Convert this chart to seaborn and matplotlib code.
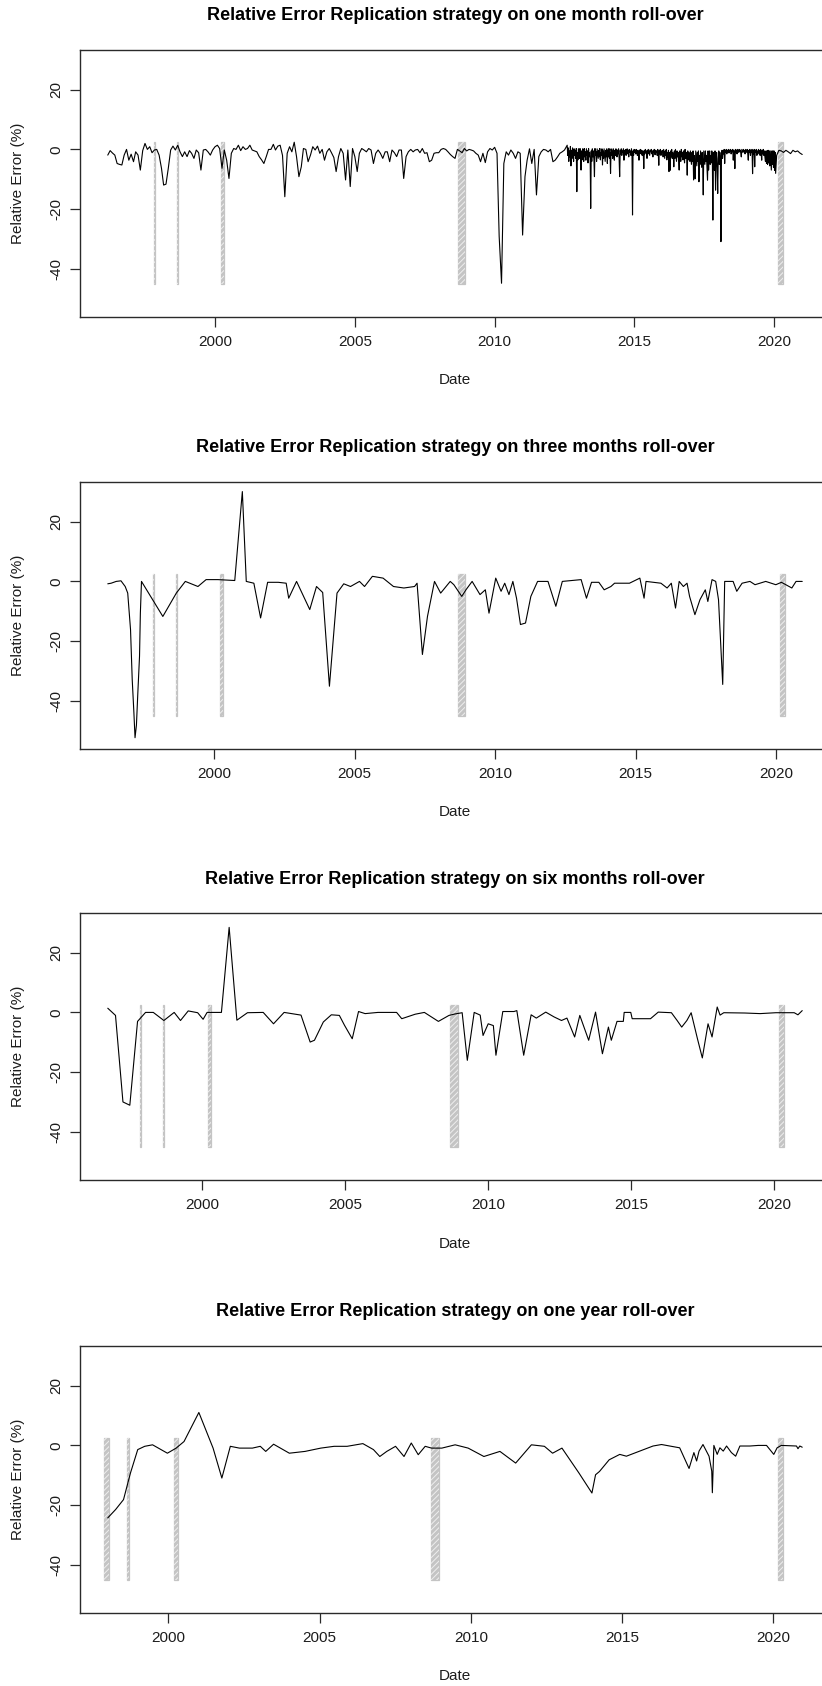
import matplotlib
matplotlib.use("Agg")
import matplotlib.pyplot as plt
from matplotlib.patches import Rectangle
import numpy as np
import pandas as pd
import seaborn as sns

# ---------------------------------------------------------------- data
TITLES = [
    "Relative Error Replication strategy on one month roll-over",
    "Relative Error Replication strategy on three months roll-over",
    "Relative Error Replication strategy on six months roll-over",
    "Relative Error Replication strategy on one year roll-over",
]
X_TICKS = [2000, 2005, 2010, 2015, 2020]
Y_TICKS = [-40, -20, 0, 20]
Y_LIMITS = (-55.8, 33.2)

# crisis periods (decimal years), shaded on every panel
BAND_START = [1997.83, 1998.63, 2000.20, 2008.68, 2020.15]
BAND_END = [1997.86, 1998.69, 2000.31, 2008.93, 2020.33]
BAND_START_1Y = [1997.88, 1998.63, 2000.20, 2008.68, 2020.15]
BAND_END_1Y = [1998.04, 1998.69, 2000.31, 2008.93, 2020.33]
BAND_LOW, BAND_HIGH = -45.0, 2.5

# one month roll-over: monthly Mar-1996 .. Jul-2012
P1_MONTHLY_A = [
    -1.9, -0.4, -1.2, -1.9, -4.7, -5.0, -5.2, -1.9, 0.0, -3.6,                    # 1996
    -1.6, -4.1, -0.8, -1.9, -6.9, -0.4, 2.0, 0.0, 0.9, -1.1, -0.2, 0.0,            # 1997
    -1.9, -6.3, -11.9, -11.6, -6.3, -0.2, 1.1, -0.2, 1.4, -0.8, -2.4, -0.8,        # 1998
    -2.4, -0.4, -1.3, -3.0, -0.2, -1.1, -6.9, -0.2, 0.0, -0.8, -1.9, -0.2,         # 1999
    0.9, 1.4, 0.3, -6.3, -0.2, -3.6, -9.7, -1.3, 0.3, 0.0, 1.4, -0.4,              # 2000
    0.9, 0.0, 0.3, 1.4, -0.2, -0.5, -0.8, -2.4, -3.5, -4.7, -2.4, 0.0,             # 2001
    0.0, 1.7, -0.2, 1.1, 1.4, -2.0, -15.8, -1.3, 0.9, -0.8, 2.4, -2.4,             # 2002
    -9.1, -5.8, 0.3, 0.0, -4.1, -1.9, 0.9, -0.2, 1.1, -1.3, 0.0, -3.6,             # 2003
    -0.8, 0.3, -1.1, -2.7, -7.4, -2.4, 0.3, -1.3, -10.2, -0.2, -12.4, 0.3,         # 2004
    -2.4, -7.4, -1.3, 0.3, -0.2, -0.8, 0.3, -0.2, -4.7, -1.3, -0.2, -1.3,          # 2005
    -3.0, -0.8, -0.8, -4.1, -0.2, -1.1, -2.4, -0.2, -0.2, -9.7, -2.4, -0.8,        # 2006
    0.0, -0.8, -0.2, 0.0, -1.1, 0.3, -1.3, -1.1, -4.1, -3.6, -1.3, -1.1,           # 2007
    -1.1, 0.0, 0.3, 0.0, -0.8, -1.7, -2.4, -3.0, 0.0, -0.5, -1.1, 0.3,             # 2008
    -0.5, 0.0, -0.2, -0.5, -1.3, -1.9, -4.1, -1.3, -4.4, -0.8, 0.3, -0.2,          # 2009
    0.7, -1.3, -29.0, -44.7, -4.7, -0.8, -1.9, -0.2, -1.3, -3.0, -0.8, -1.3,       # 2010
    -28.6, -9.1, -3.6, 0.2, -4.7, 0.0, -15.2, -2.4, -0.8, 0.0, -0.2, -0.8,         # 2011
    0.0, -4.1, -3.6, -2.5, -1.3, -0.8, -0.2,                                        # 2012
]
# one month roll-over: weekly, Aug-2012 .. Jan-2020
P1_WEEKLY = [
    # 2012
    1.4, -2.0, 0.5, -4.0, -0.5, -2.5, 1.0, -5.5, -0.3, -3.0, 0.5,
    -1.5, -4.0, 0.2, -2.0, -0.5, -3.0, 0.3, -14.1, -1.0, -3.5, 0.2,
    # 2013
    -0.5, -3.0, 0.3, -2.0, -6.9, -0.5, -3.5, 0.2, -1.5, -4.0, 0.3, -2.5, -0.8,
    -3.6, 0.2, -2.0, -0.5, -4.5, 0.3, -2.5, -1.0, -3.0, -19.7, -0.5, -4.0, 0.2,
    -2.5, -0.5, -3.5, -9.1, 0.3, -2.0, -0.8, -4.0, 0.2, -1.5, -3.0, -0.3, -2.5,
    0.3, -3.5, -1.0, -2.0, 0.2, -5.2, -0.5, -3.0, 0.2, -2.0, -4.0, -0.3, -2.5,
    # 2014
    0.2, -4.7, -0.5, -2.5, 0.3, -3.0, -1.0, -8.0, 0.2, -2.0, -0.5, -3.0, 0.2,
    -1.5, -3.6, -0.3, -2.0, 0.2, -1.0, -2.5, -0.2, -1.5, 0.2, -3.0, -9.1, -0.3,
    -1.5, 0.2, -2.0, -0.5, -1.0, 0.2, -3.6, -0.3, -1.5, 0.0, -2.0, -0.5, 0.2,
    -1.5, -0.3, -2.5, 0.0, -1.0, -0.5, -2.0, 0.2, -1.0, -21.9, -0.5, -2.0, 0.0,
    # 2015
    -1.0, -0.2, -1.5, 0.0, -0.8, -2.0, -0.3, -1.0, -3.6, -0.2, -1.2, 0.0, -1.5,
    -0.3, -2.0, -0.5, -1.0, -6.4, -0.3, -1.5, 0.0, -1.0, -0.5, -3.0, -0.2, -1.5,
    0.0, -1.0, -2.0, -0.3, -0.8, 0.0, -1.5, -0.5, -2.5, -0.2, -1.0, 0.0, -1.8,
    -0.3, -1.0, -0.5, -2.0, 0.0, -1.2, -5.3, -0.3, -1.5, 0.0, -2.0, -0.5, -1.0,
    # 2016
    -0.3, -2.5, 0.0, -1.5, -3.0, -0.5, -2.0, 0.0, -3.5, -1.0, -2.5, -0.3, -7.4,
    -1.0, -7.0, -0.5, -2.5, 0.0, -3.0, -1.0, -2.0, -5.8, -0.5, -3.0, 0.0, -2.0,
    -4.0, -0.5, -2.5, -1.0, -3.5, -6.9, -0.5, -2.0, -4.0, 0.0, -2.5, -1.0, -3.5,
    -0.5, -2.0, -4.5, 0.0, -3.0, -1.0, -2.5, -8.6, -0.5, -3.5, -1.0, -2.0, -4.0,
    # 2017
    -0.5, -3.0, -5.0, -1.0, -4.0, -0.5, -10.2, -2.0, -4.5, -9.8, -0.5, -3.0, -5.5,
    -1.0, -4.0, -0.5, -10.8, -2.0, -5.0, -0.5, -3.5, -6.0, -1.0, -4.0, -15.2, -0.5,
    -3.0, -5.0, -0.5, -4.0, -2.0, -6.0, -10.3, -0.5, -6.9, -3.0, -0.5, -5.0, -2.0,
    -4.5, -0.5, -3.0, -23.6, -1.0, -5.0, -7.0, -0.5, -13.6, -4.0, -1.0, -6.0, -14.7,
    # 2018
    -3.0, -0.5, -5.0, -1.0, -4.0, -30.8, -2.0, -0.3, -3.0, -0.5, -1.5, 0.0, -4.7,
    -0.3, -1.0, 0.0, -1.5, -0.3, -0.8, 0.0, -1.2, -0.2, -0.5, 0.0, -1.5, -0.3,
    -0.8, 0.0, -3.6, -0.3, -1.0, -6.4, 0.0, -0.8, -0.2, -1.5, 0.0, -0.5, -1.0,
    0.0, -0.8, -0.2, -1.2, -2.5, 0.0, -0.5, -1.0, 0.0, -0.8, -0.3, -1.5, 0.0,
    # 2019
    -0.5, -1.0, 0.0, -1.5, -3.6, -0.3, -1.0, 0.0, -2.0, -0.5, -1.0, 0.0, -8.1,
    -0.5, -1.5, 0.0, -5.8, -0.3, -1.0, 0.0, -2.0, -0.5, -1.5, 0.0, -1.0, -0.3,
    -2.0, 0.0, -1.0, -3.6, -0.3, -1.5, 0.0, -2.0, -0.5, -2.5, -4.0, -0.5, -4.7,
    -0.5, -5.0, -0.3, -4.5, -0.5, -5.5, -0.5, -4.0, -6.9, -0.5, -5.0, -0.5, -6.0,
    # 2020
    -0.5, -7.0, -1.0, -8.0,
]
# one month roll-over: monthly Feb-2020 .. Jan-2021
P1_MONTHLY_B = [-2.0, -0.3, -0.5, -1.0, -0.3, -0.8, -1.4, -0.3, -0.8, -0.5, -1.2, -1.7]

# three months roll-over
P2_YEAR = [
    1996.21, 1996.33, 1996.51, 1996.68, 1996.83, 1996.92, 1997.02, 1997.08, 1997.14, 1997.18,
    1997.23, 1997.28, 1997.34, 1997.37, 1997.41, 1998.17, 1998.65, 1998.97, 1999.42, 1999.71,
    2000.13, 2000.73, 2001.00, 2001.14, 2001.41, 2001.65, 2001.90, 2002.28, 2002.56, 2002.65,
    2002.93, 2003.40, 2003.64, 2003.86, 2004.10, 2004.37, 2004.61, 2004.85, 2005.17, 2005.35,
    2005.63, 2006.01, 2006.38, 2006.75, 2007.13, 2007.22, 2007.41, 2007.59, 2007.84, 2008.06,
    2008.40, 2008.53, 2008.81, 2008.96, 2009.18, 2009.46, 2009.65, 2009.78, 2010.02, 2010.21,
    2010.34, 2010.49, 2010.63, 2010.76, 2010.90, 2011.08, 2011.27, 2011.51, 2011.88, 2012.16,
    2012.39, 2013.06, 2013.25, 2013.43, 2013.69, 2013.88, 2014.12, 2014.25, 2014.78, 2015.15,
    2015.30, 2015.37, 2015.90, 2016.12, 2016.27, 2016.42, 2016.55, 2016.70, 2016.83, 2016.92,
    2017.11, 2017.29, 2017.48, 2017.57, 2017.72, 2017.85, 2017.95, 2018.10, 2018.17, 2018.47,
    2018.60, 2018.79, 2019.07, 2019.25, 2019.63, 2019.99, 2020.19, 2020.56, 2020.71, 2020.93,
]
P2_VALUE = [
    -0.8, -0.6, 0.0, 0.2, -1.7, -3.9, -16.1, -32.8, -43.9, -52.2,
    -48.0, -37.2, -25.0, -10.6, 0.0, -11.7, -3.9, 0.0, -1.7, 0.6,
    0.6, 0.3, 30.0, 0.0, -0.6, -12.2, -0.3, -0.3, -0.6, -5.6,
    0.0, -9.4, -1.7, -3.7, -35.0, -3.9, -0.8, -1.7, 0.0, -1.7,
    1.7, 1.1, -1.7, -2.2, -1.7, -0.6, -24.4, -11.7, 0.0, -3.9,
    0.0, -1.1, -5.0, -2.8, 0.0, -4.4, -2.8, -10.6, 1.1, -3.3,
    -0.6, -4.4, 0.0, -5.6, -14.4, -13.9, -5.0, 0.0, 0.0, -8.3,
    0.0, 0.6, -5.6, -0.3, -0.3, -2.8, -1.7, -0.6, -0.6, 1.1,
    -5.6, 0.0, -0.6, -2.2, -0.6, -8.9, 0.0, -1.7, -0.6, -5.0,
    -11.1, -6.1, -2.8, -6.7, 0.6, 0.0, -6.1, -34.4, 0.0, 0.0,
    -3.3, -0.6, 0.0, -1.1, 0.0, -1.1, -0.3, -2.2, 0.0, 0.0,
]

# six months roll-over
P3_YEAR = [
    1996.71, 1996.98, 1997.24, 1997.48, 1997.75, 1998.03, 1998.30, 1998.67, 1999.03, 1999.25,
    1999.52, 1999.85, 2000.04, 2000.18, 2000.68, 2000.95, 2001.22, 2001.59, 2002.14, 2002.50,
    2002.87, 2003.46, 2003.78, 2003.93, 2004.24, 2004.52, 2004.80, 2004.98, 2005.25, 2005.47,
    2005.70, 2006.15, 2006.80, 2006.98, 2007.45, 2007.77, 2008.26, 2008.63, 2008.85, 2009.09,
    2009.27, 2009.51, 2009.72, 2009.82, 2010.00, 2010.18, 2010.27, 2010.51, 2010.90, 2011.00,
    2011.24, 2011.50, 2011.68, 2012.01, 2012.30, 2012.56, 2012.75, 2013.02, 2013.20, 2013.51,
    2013.75, 2013.99, 2014.20, 2014.30, 2014.50, 2014.72, 2014.75, 2014.98, 2015.03, 2015.67,
    2015.94, 2016.40, 2016.60, 2016.76, 2016.94, 2017.09, 2017.31, 2017.48, 2017.68, 2017.82,
    2018.00, 2018.10, 2018.23, 2018.96, 2019.50, 2020.05, 2020.69, 2020.82, 2020.97,
]
P3_VALUE = [
    1.4, -1.0, -29.9, -31.0, -3.0, 0.0, 0.0, -2.7, 0.0, -2.7,
    0.5, -0.1, -2.3, 0.0, 0.0, 28.4, -2.6, -0.1, 0.0, -3.8,
    0.0, -0.9, -9.9, -9.3, -3.2, -0.8, -1.0, -4.3, -8.8, 0.3,
    -0.4, 0.0, 0.0, -2.1, -0.6, 0.0, -3.0, -1.0, -0.5, -0.1,
    -16.0, 0.0, -0.9, -7.7, -3.8, -4.4, -14.3, 0.3, 0.3, 0.6,
    -14.3, -0.8, -1.9, 0.1, -1.5, -2.7, -1.9, -8.2, -1.0, -9.3,
    0.1, -13.8, -4.9, -9.3, -3.0, -3.0, 0.0, 0.0, -2.1, -2.1,
    0.1, -0.1, -2.7, -4.9, -2.7, -0.1, -8.8, -15.2, -3.8, -8.2,
    1.8, -0.9, -0.1, -0.2, -0.4, -0.1, -0.1, -0.8, 0.6,
]

# one year roll-over
P4_YEAR = [
    1998.00, 1998.26, 1998.52, 1998.75, 1998.99, 1999.22, 1999.48, 1999.97, 2000.26, 2000.52,
    2001.01, 2001.48, 2001.77, 2002.05, 2002.35, 2002.78, 2003.04, 2003.22, 2003.48, 2004.00,
    2004.52, 2005.04, 2005.48, 2005.91, 2006.43, 2006.78, 2006.99, 2007.22, 2007.51, 2007.79,
    2008.03, 2008.26, 2008.49, 2008.70, 2009.04, 2009.48, 2009.91, 2010.43, 2010.96, 2011.48,
    2012.00, 2012.43, 2012.70, 2013.01, 2013.57, 2014.00, 2014.12, 2014.25, 2014.57, 2014.92,
    2015.14, 2015.58, 2016.02, 2016.30, 2016.57, 2016.90, 2017.21, 2017.37, 2017.46, 2017.54,
    2017.67, 2017.87, 2017.96, 2017.98, 2018.03, 2018.14, 2018.23, 2018.34, 2018.45, 2018.61,
    2018.75, 2018.89, 2019.22, 2019.50, 2019.77, 2020.01, 2020.12, 2020.26, 2020.76, 2020.81,
    2020.87, 2020.95,
]
P4_VALUE = [
    -24.2, -21.4, -18.1, -9.2, -1.4, -0.3, 0.2, -2.6, -0.9, 1.3,
    11.0, -0.9, -10.9, -0.3, -0.9, -0.9, -0.3, -2.0, 0.4, -2.6,
    -2.0, -0.9, -0.3, -0.3, 0.6, -1.4, -3.7, -2.0, -0.3, -3.7,
    0.8, -3.1, -0.3, -0.9, -0.9, 0.2, -0.9, -3.7, -2.0, -5.9,
    0.2, -0.3, -2.6, -0.9, -9.2, -15.9, -9.8, -8.7, -4.8, -3.0,
    -3.6, -1.9, -0.2, 0.3, -0.2, -0.8, -7.7, -2.4, -5.2, -1.9,
    0.3, -3.6, -8.6, -15.8, 0.0, -3.0, -0.8, -1.9, -0.2, -2.4,
    -3.6, -0.2, -0.2, 0.0, 0.0, -3.0, -0.8, 0.0, -0.2, -1.1,
    -0.2, -0.6,
]


def decimal_year(idx):
    return idx.year + (idx.dayofyear - 1) / 365.25


p1_dates = np.concatenate([
    decimal_year(pd.date_range("1996-03-01", periods=len(P1_MONTHLY_A), freq="MS")),
    decimal_year(pd.date_range("2012-08-05", periods=len(P1_WEEKLY), freq="W-SUN")),
    decimal_year(pd.date_range("2020-02-01", periods=len(P1_MONTHLY_B), freq="MS")),
])
p1_values = np.array(P1_MONTHLY_A + P1_WEEKLY + P1_MONTHLY_B)

series = [
    pd.DataFrame({"Date": p1_dates, "err": p1_values}),
    pd.DataFrame({"Date": P2_YEAR, "err": P2_VALUE}),
    pd.DataFrame({"Date": P3_YEAR, "err": P3_VALUE}),
    pd.DataFrame({"Date": P4_YEAR, "err": P4_VALUE}),
]
bands = [
    (BAND_START, BAND_END),
    (BAND_START, BAND_END),
    (BAND_START, BAND_END),
    (BAND_START_1Y, BAND_END_1Y),
]

# ---------------------------------------------------------------- style
sns.set_theme(style="white")
plt.rcParams["font.family"] = ["Liberation Sans", "DejaVu Sans"]
plt.rcParams["hatch.linewidth"] = 0.7
TEXT = "#1c1c1c"

W, H = 822, 1686
fig = plt.figure(figsize=(W / 100, H / 100), dpi=100)
fig.patch.set_facecolor("white")

AX_LEFT, AX_RIGHT = 80, 830          # plot region extends past the right edge
AX_TOPS = [50, 482, 913, 1346]
AX_H = 266.5

for k, df in enumerate(series):
    top = AX_TOPS[k]
    ax = fig.add_axes([AX_LEFT / W, 1 - (top + AX_H) / H,
                       (AX_RIGHT - AX_LEFT) / W, AX_H / H])
    ax.set_facecolor("white")

    # crisis bands: grey fill with light diagonal hatching
    for x0, x1 in zip(*bands[k]):
        ax.add_patch(Rectangle((x0, BAND_LOW), x1 - x0, BAND_HIGH - BAND_LOW,
                               facecolor="#c4c4c4", edgecolor="#c4c4c4",
                               lw=0.9, zorder=1))
        ax.add_patch(Rectangle((x0, BAND_LOW), x1 - x0, BAND_HIGH - BAND_LOW,
                               fill=False, hatch="//////", edgecolor="#eeeeee",
                               lw=0, zorder=1.5))

    sns.lineplot(data=df, x="Date", y="err", ax=ax, color="black",
                 linewidth=0.8, estimator=None, sort=False, zorder=3)

    lo, hi = df["Date"].min(), df["Date"].max()
    ext = 0.04 * (hi - lo)
    ax.set_xlim(lo - ext, hi + ext)
    ax.set_ylim(*Y_LIMITS)
    ax.set_xticks(X_TICKS)
    ax.set_xticklabels([str(t) for t in X_TICKS])
    ax.set_yticks(Y_TICKS)
    ax.set_yticklabels([str(t) for t in Y_TICKS])
    ax.set_xlabel("")
    ax.set_ylabel("")

    for s in ax.spines.values():
        s.set_visible(True)
        s.set_color("#2a2a2a")
        s.set_linewidth(1.0)

    ax.tick_params(axis="both", which="major", direction="out", length=7,
                   width=0.9, color="#2a2a2a", labelsize=11, labelcolor=TEXT,
                   bottom=True, left=True, top=False, right=False)
    ax.tick_params(axis="x", pad=6)
    ax.tick_params(axis="y", pad=5, labelrotation=90)
    for lab in ax.get_yticklabels():
        lab.set_verticalalignment("center")

    cx = (AX_LEFT + AX_RIGHT) / 2 / W
    fig.text(cx, 1 - (top - 34) / H, TITLES[k], ha="center", va="center",
             fontsize=13, fontweight="bold", color="black")
    fig.text(cx, 1 - (top + AX_H + 64) / H, "Date", ha="center", va="center",
             fontsize=11, color=TEXT)
    fig.text(18 / W, 1 - (top + AX_H / 2) / H, "Relative Error (%)",
             ha="center", va="center", rotation=90, fontsize=11, color=TEXT)

fig.savefig("out.png", dpi=100, facecolor="white")
